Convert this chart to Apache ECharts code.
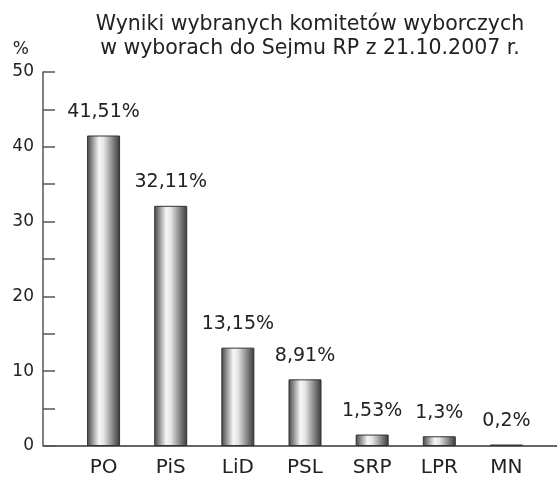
<!DOCTYPE html>
<html>
<head>
<meta charset="utf-8">
<script src="https://cdn.jsdelivr.net/npm/echarts@6/dist/echarts.min.js"></script>
<style>
  html, body { margin: 0; padding: 0; background: #fff; }
  #chart { width: 557px; height: 482px; }
</style>
</head>
<body>
<div id="chart"></div>
<script>
var parties = ['PO', 'PiS', 'LiD', 'PSL', 'SRP', 'LPR', 'MN'];
var results = [41.51, 32.11, 13.15, 8.91, 1.53, 1.3, 0.2];
var resultLabels = ['41,51%', '32,11%', '13,15%', '8,91%', '1,53%', '1,3%', '0,2%'];

var font = 'DejaVu Sans';
var dom = document.getElementById('chart');
var myChart = echarts.init(dom);

var barColor = new echarts.graphic.LinearGradient(0, 0, 1, 0, [
    { offset: 0, color: '#444' },
    { offset: 0.36, color: '#f6f6f6' },
    { offset: 0.5, color: '#e6e6e6' },
    { offset: 1, color: '#383838' }
]);

var option = {
    animation: false,
    backgroundColor: '#fff',
    title: {
        text: 'Wyniki wybranych komitetów wyborczych\nw wyborach do Sejmu RP z 21.10.2007 r.',
        left: 305,
        textAlign: 'center',
        top: 8,
        textStyle: { fontFamily: font, fontSize: 20.5, fontWeight: 'normal', color: '#222', lineHeight: 24 }
    },
    grid: { left: 70, right: 17, top: 72, bottom: 36 },
    xAxis: {
        type: 'category',
        data: parties,
        axisLine: { show: false },
        axisTick: { show: false },
        axisLabel: { margin: 12, fontFamily: font, fontSize: 20, color: '#222' }
    },
    yAxis: {
        type: 'value',
        min: 0,
        max: 50,
        interval: 5,
        offset: 27,
        name: '%',
        nameLocation: 'end',
        nameGap: 14,
        nameTextStyle: { fontFamily: font, fontSize: 17, color: '#222', align: 'right', padding: [0, 14, 0, 0] },
        splitLine: { show: false },
        axisLine: { show: true, lineStyle: { color: '#555', width: 1.5 } },
        axisTick: { show: true, inside: true, length: 12, lineStyle: { color: '#555', width: 1.5 } },
        axisLabel: {
            margin: 9,
            fontFamily: font,
            fontSize: 17,
            color: '#222',
            formatter: function (v) { return v % 10 === 0 ? v : ''; }
        }
    },
    series: [{
        type: 'bar',
        data: results,
        barWidth: 33,
        itemStyle: { color: barColor, borderColor: '#333', borderWidth: 1 },
        label: {
            show: true,
            position: 'top',
            distance: 14,
            fontFamily: font,
            fontSize: 19,
            color: '#222',
            formatter: function (p) { return resultLabels[p.dataIndex]; }
        }
    }]
};
myChart.setOption(option);

// baseline drawn across the full width like in the original
var y0 = myChart.convertToPixel({ yAxisIndex: 0 }, 0);
myChart.setOption({
    graphic: [{
        type: 'line',
        shape: { x1: 43, y1: y0, x2: 557, y2: y0 },
        style: { stroke: '#333', lineWidth: 1.5 }
    }]
});
</script>
</body>
</html>
